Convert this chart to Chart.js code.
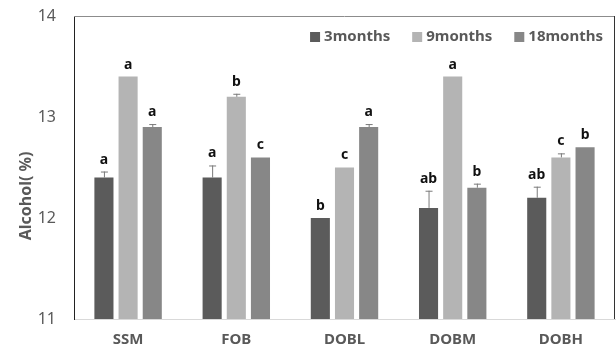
<!DOCTYPE html>
<html>
<head>
<meta charset="utf-8">
<script src="https://cdn.jsdelivr.net/npm/chart.js@4"></script>
<style>
  html, body { margin: 0; padding: 0; background: #fff; }
  #wrap { width: 616px; height: 350px; }
</style>
</head>
<body>
<div id="wrap"><canvas id="grafico"></canvas></div>
<script>
const categorias = ['SSM', 'FOB', 'DOBL', 'DOBM', 'DOBH'];
const series = ['3months', '9months', '18months'];
const cores = ['#5b5b5b', '#b4b4b4', '#878787'];

const valores3m = [12.4, 12.4, 12.0, 12.1, 12.2];
const valores9m = [13.4, 13.2, 12.5, 13.4, 12.6];
const valores18m = [12.9, 12.6, 12.9, 12.3, 12.7];

const erro3m = [0.06, 0.12, 0.0, 0.17, 0.11];
const erro9m = [0.0, 0.03, 0.0, 0.0, 0.04];
const erro18m = [0.03, 0.0, 0.03, 0.04, 0.0];

const letras3m = ['a', 'a', 'b', 'ab', 'ab'];
const letras9m = ['a', 'b', 'c', 'a', 'c'];
const letras18m = ['a', 'c', 'a', 'b', 'b'];

const yTicks = [11, 12, 13, 14];
const tituloY = 'Alcohol( %)';

const valores = [valores3m, valores9m, valores18m];
const erros = [erro3m, erro9m, erro18m];
const letras = [letras3m, letras9m, letras18m];

const fonte = '"Noto Sans", "DejaVu Sans", sans-serif';

// barras de erro, letras, legenda, titulo e moldura
const extras = {
    id: 'extras',
    afterDatasetsDraw(chart) {
        const ctx = chart.ctx;
        const y = chart.scales.y;
        const area = chart.chartArea;
        ctx.save();
        // moldura superior e direita
        ctx.strokeStyle = '#8c8c8c';
        ctx.lineWidth = 1;
        ctx.beginPath();
        ctx.moveTo(area.left, area.top + 0.5);
        ctx.lineTo(area.right, area.top + 0.5);
        ctx.stroke();
        ctx.strokeStyle = '#333';
        ctx.beginPath();
        ctx.moveTo(area.right - 0.5, area.top);
        ctx.lineTo(area.right - 0.5, area.bottom);
        ctx.stroke();

        valores.forEach((serie, d) => {
            const meta = chart.getDatasetMeta(d);
            serie.forEach((v, i) => {
                const bar = meta.data[i];
                const e = erros[d][i];
                const yTop = y.getPixelForValue(v + e);
                if (e > 0) {
                    ctx.strokeStyle = '#7a7a7a';
                    ctx.lineWidth = 1;
                    ctx.beginPath();
                    ctx.moveTo(bar.x + 0.5, y.getPixelForValue(v));
                    ctx.lineTo(bar.x + 0.5, yTop);
                    ctx.moveTo(bar.x - 3, yTop + 0.5);
                    ctx.lineTo(bar.x + 4, yTop + 0.5);
                    ctx.stroke();
                }
                ctx.fillStyle = '#111';
                ctx.font = 'bold 14px ' + fonte;
                ctx.textAlign = 'center';
                ctx.textBaseline = 'bottom';
                ctx.fillText(letras[d][i], bar.x, yTop - 5);
            });
        });

        // legenda
        ctx.font = 'bold 15px ' + fonte;
        ctx.textAlign = 'left';
        ctx.textBaseline = 'middle';
        let x = area.right - 12;
        const ly = area.top + 21;
        for (let d = series.length - 1; d >= 0; d--) {
            const w = ctx.measureText(series[d]).width;
            x -= w;
            ctx.fillStyle = '#595959';
            ctx.fillText(series[d], x, ly);
            x -= 14;
            ctx.fillStyle = cores[d];
            ctx.fillRect(x, ly - 5, 10, 10);
            x -= 22;
        }

        // titulo do eixo y (um pouco abaixo do meio, como no original)
        ctx.translate(26, area.top + (area.bottom - area.top) * 0.594);
        ctx.rotate(-Math.PI / 2);
        ctx.font = 'bold 16px ' + fonte;
        ctx.textAlign = 'center';
        ctx.fillStyle = '#595959';
        ctx.fillText(tituloY, 0, 0);
        ctx.restore();
    }
};

new Chart(document.getElementById('grafico'), {
    type: 'bar',
    data: {
        labels: categorias,
        datasets: series.map((nome, d) => ({
            label: nome,
            data: valores[d],
            backgroundColor: cores[d],
            borderWidth: 0,
            categoryPercentage: 0.67,
            barPercentage: 0.79
        }))
    },
    options: {
        responsive: true,
        maintainAspectRatio: false,
        animation: false,
        layout: { padding: { top: 16, right: 1, left: 0, bottom: 0 } },
        plugins: {
            legend: { display: false },
            tooltip: { enabled: false }
        },
        scales: {
            x: {
                afterFit: (axis) => { axis.height = 31; },
                grid: { display: false, drawTicks: false },
                border: { display: true, color: '#d9d9d9' },
                ticks: {
                    padding: 12,
                    color: '#595959',
                    font: { family: fonte, size: 15, weight: 'bold' }
                }
            },
            y: {
                min: 11,
                max: 14,
                afterBuildTicks: (axis) => { axis.ticks = yTicks.map(v => ({ value: v })); },
                afterFit: (axis) => {
                    axis.width = 74;
                    axis.paddingTop = 0;
                    axis.paddingBottom = 0;
                },
                grid: { display: false, drawTicks: false },
                border: { display: true, color: '#222' },
                ticks: {
                    padding: 18,
                    color: '#595959',
                    font: { family: fonte, size: 16 }
                }
            }
        }
    },
    plugins: [extras]
});
</script>
</body>
</html>
